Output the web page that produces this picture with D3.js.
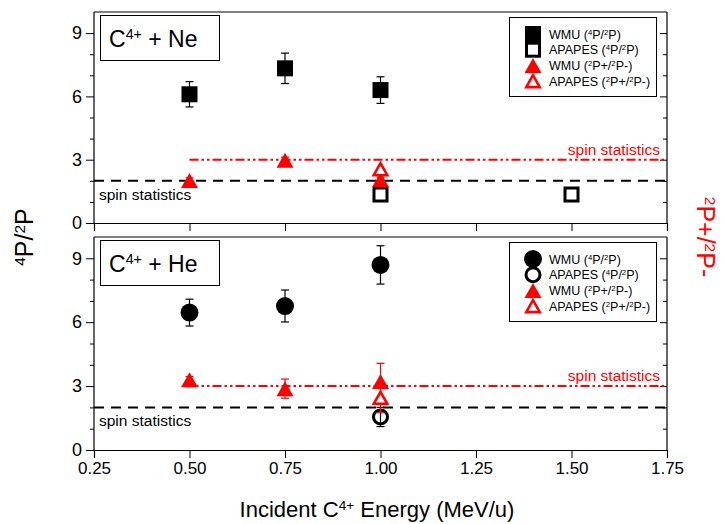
<!DOCTYPE html>
<html>
<head>
<meta charset="utf-8">
<script src="https://cdn.jsdelivr.net/npm/d3@7"></script>
<style>
  body { margin: 0; background: #fff; }
  svg { display: block; font-family: "Liberation Sans", Arial, sans-serif; }
</style>
</head>
<body>
<svg id="chart" width="724" height="524"></svg>
<script>
// x axis ticks (MeV/u)
var xTicks = [0.25, 0.50, 0.75, 1.00, 1.25, 1.50, 1.75];
var yMajor = [0, 3, 6, 9];
var yMinor = [1, 2, 4, 5, 7, 8];

// C4+ + Ne
var neWmuQx = [0.5, 0.75, 1.0];
var neWmuQ = [6.1, 7.33, 6.3];
var neWmuQerr = [0.6, 0.72, 0.63];
var neApQx = [1.0, 1.5];
var neApQ = [1.35, 1.35];
var neWmuRx = [0.5, 0.75, 1.0];
var neWmuR = [2.02, 2.97, 2.05];
var neWmuRerr = [0.12, 0.15, 0.12];
var neApRx = [1.0];
var neApR = [2.55];

// C4+ + He
var heWmuQx = [0.5, 0.75, 1.0];
var heWmuQ = [6.45, 6.76, 8.69];
var heWmuQerr = [0.63, 0.75, 0.9];
var heApQx = [1.0];
var heApQ = [1.55];
var heApQerr = [0.45];
var heWmuRx = [0.5, 0.75, 1.0];
var heWmuR = [3.3, 2.88, 3.22];
var heWmuRerr = [0.15, 0.45, 0.85];
var heApRx = [1.0];
var heApR = [2.45];
var heApRerr = [0.7];

var spinQ = 2, spinR = 3;

var svg = d3.select("#chart");
var x = d3.scaleLinear().domain([0.25, 1.75]).range([94, 667]);
var red = "#ff0000";

function zip(xs, ys, es) {
    return xs.map(function (v, i) { return { x: v, y: ys[i], e: es ? es[i] : 0 }; });
}

// text with superscripts: parts like ["C", "^4+", " + Ne"]
function richText(sel, parts) {
    parts.forEach(function (p) {
        if (p.charAt(0) === "^") {
            sel.append("tspan").attr("baseline-shift", "super").attr("font-size", "62%").text(p.slice(1));
        } else {
            sel.append("tspan").text(p);
        }
    });
    return sel;
}

function triPath(w, h) {
    return "M0," + (-h / 2) + "L" + (w / 2) + "," + (h / 2) + "L" + (-w / 2) + "," + (h / 2) + "Z";
}

function drawMarker(g, type, cx, cy, color) {
    if (type === "fsq") {
        g.append("rect").attr("x", cx - 8).attr("y", cy - 8).attr("width", 16).attr("height", 16).attr("fill", color);
    } else if (type === "osq") {
        g.append("rect").attr("x", cx - 6.5).attr("y", cy - 6.5).attr("width", 13).attr("height", 13)
            .attr("fill", "#fff").attr("stroke", color).attr("stroke-width", 3);
    } else if (type === "fci") {
        g.append("circle").attr("cx", cx).attr("cy", cy).attr("r", 9).attr("fill", color);
    } else if (type === "oci") {
        g.append("circle").attr("cx", cx).attr("cy", cy).attr("r", 7).attr("fill", "none")
            .attr("stroke", color).attr("stroke-width", 3);
    } else if (type === "ftr") {
        g.append("path").attr("d", triPath(17, 15)).attr("transform", "translate(" + cx + "," + cy + ")").attr("fill", color);
    } else if (type === "otr") {
        g.append("path").attr("d", triPath(13.5, 12)).attr("transform", "translate(" + cx + "," + cy + ")")
            .attr("fill", "#fff").attr("stroke", color).attr("stroke-width", 2.6).attr("stroke-linejoin", "miter");
    }
}

function drawSeries(g, y, data, type, color) {
    data.forEach(function (d) {
        if (d.e > 0) {
            var eg = g.append("g").attr("stroke", color).attr("stroke-width", 1.2);
            eg.append("line").attr("x1", x(d.x)).attr("x2", x(d.x)).attr("y1", y(d.y + d.e)).attr("y2", y(d.y - d.e));
            eg.append("line").attr("x1", x(d.x) - 4).attr("x2", x(d.x) + 4).attr("y1", y(d.y + d.e)).attr("y2", y(d.y + d.e));
            eg.append("line").attr("x1", x(d.x) - 4).attr("x2", x(d.x) + 4).attr("y1", y(d.y - d.e)).attr("y2", y(d.y - d.e));
        }
    });
    data.forEach(function (d) { drawMarker(g, type, x(d.x), y(d.y), color); });
}

function drawPanel(top, bottom, cfg) {
    var y = d3.scaleLinear().domain([0, 10]).range([bottom, top]);
    var g = svg.append("g");

    // frame top line
    g.append("line").attr("x1", x(0.25)).attr("x2", x(1.75)).attr("y1", top).attr("y2", top)
        .attr("stroke", "#000").attr("stroke-width", 1.2);

    // left axis
    var left = g.append("g").attr("transform", "translate(" + x(0.25) + ",0)")
        .call(d3.axisLeft(y).tickValues(yMajor).tickSize(8).tickPadding(4).tickFormat(d3.format("d")));
    left.select(".domain").remove();
    left.selectAll("text").attr("font-size", 18).attr("font-family", null);
    g.append("g").attr("transform", "translate(" + x(0.25) + ",0)")
        .call(d3.axisLeft(y).tickValues(yMinor).tickSize(4).tickFormat(""))
        .select(".domain").remove();
    g.append("line").attr("x1", x(0.25)).attr("x2", x(0.25)).attr("y1", top).attr("y2", bottom)
        .attr("stroke", "#000").attr("stroke-width", 1.2);

    // right axis, ticks inward
    var right = g.append("g").attr("transform", "translate(" + x(1.75) + ",0)");
    right.call(d3.axisLeft(y).tickValues(yMajor).tickSize(7).tickFormat("")).select(".domain").remove();
    right.append("g").call(d3.axisLeft(y).tickValues(yMinor).tickSize(4).tickFormat("")).select(".domain").remove();
    g.append("line").attr("x1", x(1.75)).attr("x2", x(1.75)).attr("y1", top).attr("y2", bottom)
        .attr("stroke", "#000").attr("stroke-width", 1.2);

    // bottom axis
    var bot = g.append("g").attr("transform", "translate(0," + bottom + ")")
        .call(d3.axisBottom(x).tickValues(xTicks).tickSize(8).tickPadding(4)
            .tickFormat(cfg.labels ? d3.format(".2f") : ""));
    bot.select(".domain").attr("stroke-width", 1.2);
    bot.selectAll("text").attr("font-size", 17).attr("font-family", null);

    // spin statistics lines
    g.append("line").attr("x1", x(0.25)).attr("x2", x(1.75)).attr("y1", y(spinQ)).attr("y2", y(spinQ))
        .attr("stroke", "#000").attr("stroke-width", 2).attr("stroke-dasharray", "10,7");
    g.append("line").attr("x1", x(0.5)).attr("x2", x(1.75)).attr("y1", y(spinR)).attr("y2", y(spinR))
        .attr("stroke", red).attr("stroke-width", 2).attr("stroke-dasharray", "9,3,2.5,3,2.5,3");
    g.append("text").attr("x", 99).attr("y", y(spinQ) + 19).attr("font-size", 15.5).text("spin statistics");
    g.append("text").attr("x", 660).attr("y", y(spinR) - 5).attr("font-size", 15.5)
        .attr("text-anchor", "end").attr("fill", red).text("spin statistics");

    // data
    drawSeries(g, y, cfg.wmuQ, cfg.fill, "#000");
    drawSeries(g, y, cfg.apQ, cfg.open, "#000");
    drawSeries(g, y, cfg.wmuR, "ftr", red);
    drawSeries(g, y, cfg.apR, "otr", red);

    // projectile label box
    g.append("rect").attr("x", 100.5).attr("y", top + 3.5).attr("width", 119).attr("height", 45)
        .attr("fill", "#fff").attr("stroke", "#000").attr("stroke-width", 1);
    richText(g.append("text").attr("x", 109).attr("y", top + 35).attr("font-size", 23), ["C", "^4+", " + " + cfg.target]);

    // legend
    var lg = g.append("g").attr("transform", "translate(" + 509 + "," + (top + 5) + ")");
    lg.append("rect").attr("x", 0.5).attr("y", 0.5).attr("width", 147).attr("height", 79)
        .attr("fill", "#fff").attr("stroke", "#000").attr("stroke-width", 1);
    var rows = [
        { t: cfg.fill, c: "#000", txt: ["WMU (", "^4", "P/", "^2", "P)"] },
        { t: cfg.open, c: "#000", txt: ["APAPES (", "^4", "P/", "^2", "P)"] },
        { t: "ftr", c: red, txt: ["WMU (", "^2", "P+/", "^2", "P-)"] },
        { t: "otr", c: red, txt: ["APAPES (", "^2", "P+/", "^2", "P-)"] }
    ];
    rows.forEach(function (r, i) {
        var cy = 17 + i * 15.7;
        drawMarker(lg, r.t, 24, cy, r.c);
        richText(lg.append("text").attr("x", 40).attr("y", cy + 4.5).attr("font-size", 12.5), r.txt);
    });
}

drawPanel(12, 223, {
    target: "Ne", fill: "fsq", open: "osq", labels: false,
    wmuQ: zip(neWmuQx, neWmuQ, neWmuQerr),
    apQ: zip(neApQx, neApQ),
    wmuR: zip(neWmuRx, neWmuR, neWmuRerr),
    apR: zip(neApRx, neApR)
});

drawPanel(237, 450, {
    target: "He", fill: "fci", open: "oci", labels: true,
    wmuQ: zip(heWmuQx, heWmuQ, heWmuQerr),
    apQ: zip(heApQx, heApQ, heApQerr),
    wmuR: zip(heWmuRx, heWmuR, heWmuRerr),
    apR: zip(heApRx, heApR, heApRerr)
});

// axis titles
richText(svg.append("text").attr("transform", "translate(33,237) rotate(-90)")
    .attr("text-anchor", "middle").attr("font-size", 25), ["^4", "P/", "^2", "P"]);
richText(svg.append("text").attr("transform", "translate(697,237) rotate(90)")
    .attr("text-anchor", "middle").attr("font-size", 25).attr("fill", red), ["^2", "P+/", "^2", "P-"]);
richText(svg.append("text").attr("x", 377).attr("y", 517).attr("text-anchor", "middle")
    .attr("font-size", 22), ["Incident C", "^4+", " Energy (MeV/u)"]);
</script>
</body>
</html>
